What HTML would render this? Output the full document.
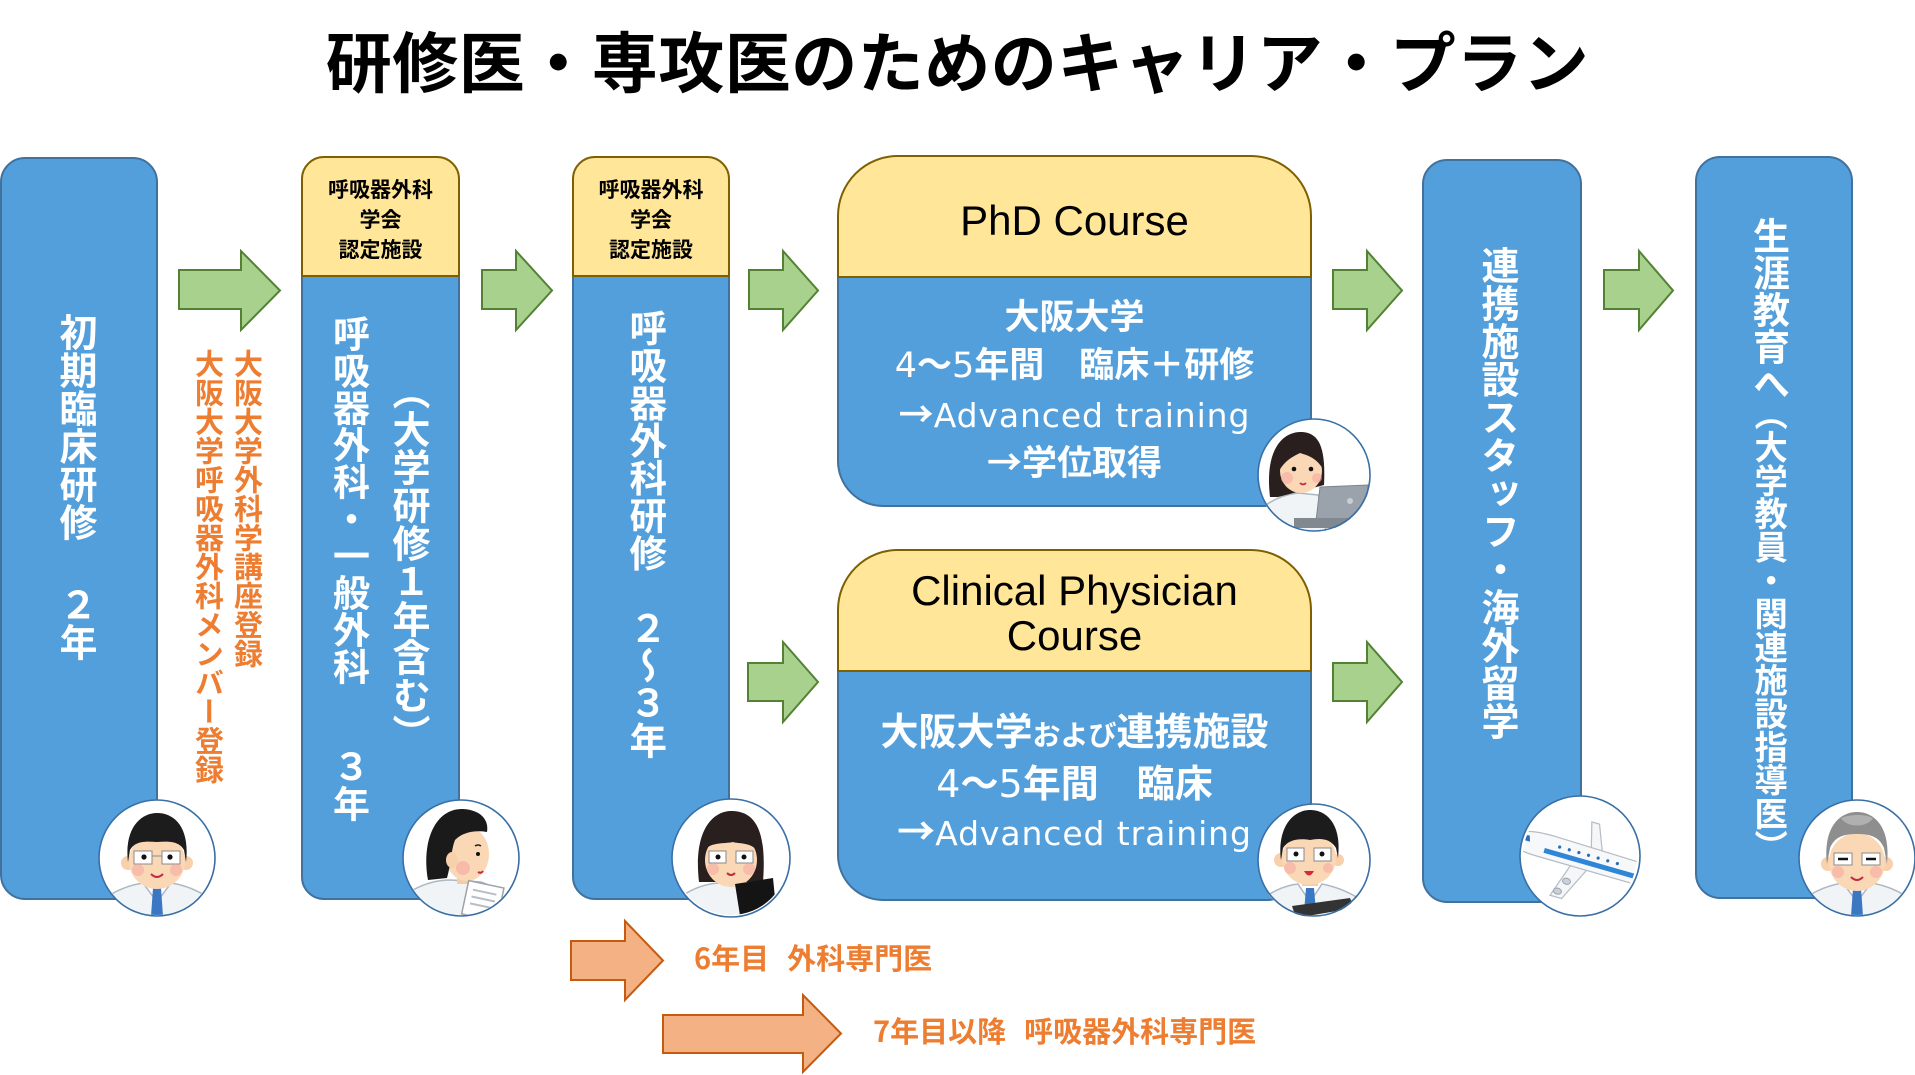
<!DOCTYPE html>
<html><head><meta charset="utf-8">
<style>
html,body{margin:0;padding:0;background:#fff;width:1915px;height:1075px;overflow:hidden;}
body{position:relative;font-family:"Liberation Sans","Noto Sans CJK JP",sans-serif;}
svg{position:absolute;left:0;top:0;}
.t{position:absolute;white-space:nowrap;}
.jp{font-family:"Noto Sans CJK JP","Liberation Sans",sans-serif;}
.w{position:absolute;white-space:nowrap;font-family:"Noto Sans CJK JP",sans-serif;font-weight:bold;color:#fff;text-align:center;left:838px;width:473px;}
.v{position:absolute;writing-mode:vertical-rl;white-space:nowrap;font-family:"Noto Sans CJK JP",sans-serif;font-weight:bold;color:#fff;height:520px;overflow:visible;}
.lat{font-family:"DejaVu Sans",sans-serif;font-weight:normal;line-height:0;}
.adv{font-family:"DejaVu Sans",sans-serif;font-weight:normal;line-height:0;font-size:33px;letter-spacing:0.9px;}
.ja{font-family:"Noto Sans CJK JP",sans-serif;line-height:0;}
</style></head><body>
<svg width="1915" height="1075" viewBox="0 0 1915 1075">
<defs>
<clipPath id="cc"><circle cx="0" cy="0" r="57"/></clipPath>
</defs>
<!-- Box1 -->
<rect x="1" y="158" width="156" height="741" rx="24" fill="#529FDC" stroke="#41719C" stroke-width="2"/>
<!-- Box2 -->
<path d="M302,276 V877 A22,22 0 0 0 324,899 H437 A22,22 0 0 0 459,877 V276 Z" fill="#529FDC" stroke="#41719C" stroke-width="2"/>
<path d="M302,276 V179 A22,22 0 0 1 324,157 H437 A22,22 0 0 1 459,179 V276 Z" fill="#FFE699" stroke="#7F6000" stroke-width="2"/>
<!-- Box3 -->
<path d="M573,276 V877 A22,22 0 0 0 595,899 H707 A22,22 0 0 0 729,877 V276 Z" fill="#529FDC" stroke="#41719C" stroke-width="2"/>
<path d="M573,276 V179 A22,22 0 0 1 595,157 H707 A22,22 0 0 1 729,179 V276 Z" fill="#FFE699" stroke="#7F6000" stroke-width="2"/>
<!-- PhD -->
<path d="M838,277 V461 A45,45 0 0 0 883,506 H1266 A45,45 0 0 0 1311,461 V277 Z" fill="#529FDC" stroke="#41719C" stroke-width="2"/>
<path d="M838,277 V216 A60,60 0 0 1 898,156 H1251 A60,60 0 0 1 1311,216 V277 Z" fill="#FFE699" stroke="#7F6000" stroke-width="2"/>
<!-- Clinical -->
<path d="M838,671 V855 A45,45 0 0 0 883,900 H1266 A45,45 0 0 0 1311,855 V671 Z" fill="#529FDC" stroke="#41719C" stroke-width="2"/>
<path d="M838,671 V610 A60,60 0 0 1 898,550 H1251 A60,60 0 0 1 1311,610 V671 Z" fill="#FFE699" stroke="#7F6000" stroke-width="2"/>
<!-- Box5, Box6 -->
<rect x="1423" y="160" width="158" height="742" rx="24" fill="#529FDC" stroke="#41719C" stroke-width="2"/>
<rect x="1696" y="157" width="156" height="741" rx="24" fill="#529FDC" stroke="#41719C" stroke-width="2"/>

<!-- Green arrows -->
<g fill="#A9D18E" stroke="#548235" stroke-width="2" stroke-linejoin="miter">
<polygon points="179,270 241,270 241,251 280,290.5 241,330 241,309 179,309"/>
<polygon points="482,270 516,270 516,251 552,290.5 516,330 516,309 482,309"/>
<polygon points="749,270 783,270 783,251 818,290.5 783,330 783,309 749,309"/>
<polygon points="1333,270 1367,270 1367,251 1402,290.5 1367,330 1367,309 1333,309"/>
<polygon points="1604,270 1639,270 1639,251 1673,290.5 1639,330 1639,309 1604,309"/>
<polygon points="748,663 783,663 783,642 818,682 783,722 783,701 748,701"/>
<polygon points="1333,663 1367,663 1367,642 1402,682 1367,722 1367,701 1333,701"/>
</g>
<!-- Orange arrows -->
<g fill="#F4B183" stroke="#C55A11" stroke-width="2">
<polygon points="571,941 625,941 625,921 663,960.5 625,1000 625,980 571,980"/>
<polygon points="663,1015 803,1015 803,995 841,1033.5 803,1072 803,1053 663,1053"/>
</g>

<!-- C1 man front -->
<g transform="translate(157,858)">
<circle r="58" fill="#fff"/>
<g clip-path="url(#cc)">
<path d="M-60,60 L-52,40 Q-34,28 -14,25 L0,44 L14,25 Q34,28 52,40 L60,60 Z" fill="#F1F4F7" stroke="#AEB8C2" stroke-width="1.5"/>
<path d="M-4,30 L4,30 L6,58 L0,62 L-6,58 Z" fill="#3B78C3"/>
<rect x="-8" y="16" width="16" height="12" fill="#F5CBA5"/>
<circle cx="-29" cy="5" r="7" fill="#F8D0AB"/><circle cx="29" cy="5" r="7" fill="#F8D0AB"/>
<ellipse cx="0" cy="3" rx="28" ry="28" fill="#FAD8B6"/>
<path d="M-29,4 C-33,-30 -16,-45 0,-45 C18,-45 33,-30 29,4 L27,-8 C22,-17 12,-17 0,-16 C-12,-17 -22,-17 -27,-8 Z" fill="#1C1C1C"/>
<rect x="-23" y="-7" width="18" height="13" fill="#fff" stroke="#8A8A8A"/>
<rect x="5" y="-7" width="18" height="13" fill="#fff" stroke="#8A8A8A"/>
<line x1="-5" y1="-2" x2="5" y2="-2" stroke="#8A8A8A"/>
<circle cx="-13" cy="-1" r="2.6" fill="#111"/><circle cx="13" cy="-1" r="2.6" fill="#111"/>
<circle cx="-19" cy="12" r="6" fill="#F6A6A0" opacity=".55"/><circle cx="19" cy="12" r="6" fill="#F6A6A0" opacity=".55"/>
<path d="M-6,16 Q0,22 6,16" stroke="#C42A44" stroke-width="2" fill="none"/>
</g>
<circle r="58" fill="none" stroke="#3A6FA6" stroke-width="1.6"/>
</g>

<!-- C2 side man with clipboard -->
<g transform="translate(461,858)">
<circle r="58" fill="#fff"/>
<g clip-path="url(#cc)">
<path d="M-60,62 L-48,32 Q-30,22 -10,22 L20,24 Q38,30 44,44 L50,62 Z" fill="#F1F4F7" stroke="#AEB8C2" stroke-width="1.5"/>
<rect x="-4" y="12" width="16" height="14" fill="#F5CBA5"/>
<ellipse cx="6" cy="-4" rx="22" ry="27" fill="#FAD8B6"/>
<path d="M-33,22 C-40,-20 -24,-50 2,-49 C20,-48 28,-38 26,-26 C14,-28 2,-26 -6,-18 C-10,-8 -10,6 -14,20 Z" fill="#1A1A1A"/>
<ellipse cx="-9" cy="2" rx="6" ry="8" fill="#F8D0AB"/>
<circle cx="2" cy="10" r="7" fill="#F6A6A0" opacity=".6"/>
<path d="M14,-12 q3,-2 6,0" stroke="#222" stroke-width="1.5" fill="none"/>
<circle cx="17" cy="-4" r="2" fill="#111"/>
<path d="M17,14 q3,2 5,-1" stroke="#C42A44" stroke-width="2" fill="none"/>
<g transform="rotate(12 22 42)">
<rect x="4" y="26" width="36" height="34" fill="#fff" stroke="#9AA3AC" stroke-width="1.5"/>
<g stroke="#B7BEC6" stroke-width="2"><line x1="10" y1="34" x2="34" y2="34"/><line x1="10" y1="41" x2="34" y2="41"/><line x1="10" y1="48" x2="34" y2="48"/></g>
</g>
</g>
<circle r="58" fill="none" stroke="#3A6FA6" stroke-width="1.6"/>
</g>

<!-- C3 woman glasses tablet -->
<g transform="translate(731,858)">
<circle r="59" fill="#fff"/>
<g clip-path="url(#cc)">
<path d="M-60,62 L-46,36 Q-30,26 -12,25 L12,25 Q30,28 40,40 L50,62 Z" fill="#F1F4F7" stroke="#AEB8C2" stroke-width="1.5"/>
<rect x="-8" y="14" width="16" height="14" fill="#F5CBA5"/>
<path d="M-32,24 C-38,-28 -18,-48 2,-47 C24,-46 36,-28 32,24 Z" fill="#2A1F1F"/>
<ellipse cx="0" cy="2" rx="26" ry="27" fill="#FAD8B6"/>
<path d="M-28,6 C-30,-22 -16,-38 2,-38 C20,-38 30,-22 28,6 L26,-8 C18,-16 8,-14 2,-16 C-8,-14 -20,-16 -26,-8 Z" fill="#2A1F1F"/>
<rect x="-22" y="-7" width="17" height="12" fill="#fff" stroke="#8A8A8A"/>
<rect x="5" y="-7" width="17" height="12" fill="#fff" stroke="#8A8A8A"/>
<circle cx="-13" cy="-1" r="2.5" fill="#111"/><circle cx="13" cy="-1" r="2.5" fill="#111"/>
<circle cx="-18" cy="11" r="6" fill="#F6A6A0" opacity=".55"/><circle cx="18" cy="11" r="6" fill="#F6A6A0" opacity=".55"/>
<path d="M-4,15 Q0,19 4,15" stroke="#C42A44" stroke-width="2" fill="none"/>
<polygon points="4,26 42,20 46,60 10,64" fill="#141414"/>
</g>
<circle r="59" fill="none" stroke="#3A6FA6" stroke-width="1.6"/>
</g>

<!-- C4 woman laptop -->
<g transform="translate(1314,475)">
<circle r="56" fill="#fff"/>
<g clip-path="url(#cc)">
<path d="M-56,60 L-48,30 Q-34,20 -16,18 L4,20 Q10,32 12,60 Z" fill="#F1F4F7" stroke="#AEB8C2" stroke-width="1.5"/>
<path d="M-44,22 C-50,-30 -28,-44 -12,-43 C4,-42 12,-30 10,10 L-36,22 Z" fill="#2A1F1F"/>
<ellipse cx="-13" cy="-4" rx="21" ry="22" fill="#FAD8B6"/>
<path d="M-36,-2 C-38,-26 -26,-38 -12,-38 C2,-38 10,-26 9,-6 C2,-18 -8,-20 -14,-22 C-22,-18 -30,-14 -36,-2 Z" fill="#2A1F1F"/>
<circle cx="-20" cy="-6" r="2.3" fill="#111"/><circle cx="-3" cy="-6" r="2.3" fill="#111"/>
<circle cx="-27" cy="3" r="6" fill="#F6A6A0" opacity=".55"/><circle cx="3" cy="3" r="5" fill="#F6A6A0" opacity=".55"/>
<path d="M-14,8 Q-11,11 -8,8" stroke="#C42A44" stroke-width="1.8" fill="none"/>
<polygon points="6,12 54,10 52,44 2,46" fill="#9AA3AC" stroke="#7D868F" stroke-width="1"/>
<circle cx="36" cy="26" r="3" fill="#C8CED4"/>
<rect x="-20" y="43" width="78" height="10" fill="#808990"/>
</g>
<circle r="56" fill="none" stroke="#3A6FA6" stroke-width="1.6"/>
</g>

<!-- C5 man writing -->
<g transform="translate(1314,860)">
<circle r="56" fill="#fff"/>
<g clip-path="url(#cc)">
<path d="M-58,60 L-50,38 Q-34,26 -16,24 L-4,42 L8,24 Q28,28 44,38 L52,60 Z" fill="#F1F4F7" stroke="#AEB8C2" stroke-width="1.5"/>
<path d="M-8,28 L0,28 L2,52 L-4,56 L-10,52 Z" fill="#3B78C3"/>
<rect x="-12" y="14" width="16" height="12" fill="#F5CBA5"/>
<circle cx="-33" cy="0" r="7" fill="#F8D0AB"/><circle cx="24" cy="0" r="6" fill="#F8D0AB"/>
<ellipse cx="-5" cy="-2" rx="27" ry="27" fill="#FAD8B6"/>
<path d="M-33,0 C-37,-34 -20,-50 -4,-50 C14,-50 28,-34 24,-2 L22,-12 C16,-22 6,-22 -4,-20 C-16,-22 -26,-20 -31,-12 Z" fill="#1C1C1C"/>
<rect x="-27" y="-12" width="17" height="13" fill="#fff" stroke="#8A8A8A"/>
<rect x="0" y="-12" width="17" height="13" fill="#fff" stroke="#8A8A8A"/>
<circle cx="-18" cy="-6" r="2.5" fill="#111"/><circle cx="8" cy="-6" r="2.5" fill="#111"/>
<circle cx="-24" cy="8" r="6" fill="#F6A6A0" opacity=".55"/><circle cx="14" cy="8" r="5" fill="#F6A6A0" opacity=".55"/>
<path d="M-10,11 Q-5,20 0,11 Z" fill="#D8283E"/>
<polygon points="-22,46 36,38 40,48 -18,58" fill="#333"/>
</g>
<circle r="56" fill="none" stroke="#3A6FA6" stroke-width="1.6"/>
</g>

<!-- C6 plane -->
<g transform="translate(1580,856)">
<circle r="60" fill="#fff"/>
<g clip-path="url(#cc)">
<g transform="rotate(16)">
<polygon points="-4,4 14,4 -6,46 -18,46" fill="#F4F6F8" stroke="#B5BCC3" stroke-width="1.2"/>
<polygon points="10,-6 22,-6 10,-36 2,-36" fill="#F4F6F8" stroke="#B5BCC3" stroke-width="1.2"/>
<path d="M-72,2 C-66,-10 -50,-12 -30,-12 L70,-10 L70,12 L-40,12 C-58,12 -70,10 -72,2 Z" fill="#F7F8FA" stroke="#B5BCC3" stroke-width="1.2"/>
<rect x="-36" y="2" width="106" height="5" fill="#2F86D6"/>
<g fill="#2A6CB8"><circle cx="-22" cy="-3" r="1.6"/><circle cx="-12" cy="-3" r="1.6"/><circle cx="-2" cy="-3" r="1.6"/><circle cx="8" cy="-3" r="1.6"/><circle cx="18" cy="-3" r="1.6"/><circle cx="28" cy="-3" r="1.6"/><circle cx="38" cy="-3" r="1.6"/></g>
<path d="M-62,-4 L-54,-6 L-52,0 L-60,0 Z" fill="#2A6CB8"/>
<ellipse cx="-6" cy="28" rx="4" ry="3" fill="#C9D2DA" stroke="#9AA3AC"/>
<ellipse cx="-12" cy="40" rx="4" ry="3" fill="#C9D2DA" stroke="#9AA3AC"/>
</g>
</g>
<circle r="60" fill="none" stroke="#3A6FA6" stroke-width="1.6"/>
</g>

<!-- C7 old man -->
<g transform="translate(1857,858)">
<circle r="58" fill="#fff"/>
<g clip-path="url(#cc)">
<path d="M-60,60 L-52,40 Q-34,28 -14,25 L0,44 L14,25 Q34,28 52,40 L60,60 Z" fill="#F1F4F7" stroke="#AEB8C2" stroke-width="1.5"/>
<path d="M-4,30 L4,30 L6,58 L0,62 L-6,58 Z" fill="#3B78C3"/>
<rect x="-8" y="16" width="16" height="12" fill="#F5CBA5"/>
<circle cx="-29" cy="6" r="7" fill="#F8D0AB"/><circle cx="29" cy="6" r="7" fill="#F8D0AB"/>
<ellipse cx="0" cy="4" rx="28" ry="29" fill="#FAD8B6"/>
<path d="M-30,6 C-34,-30 -18,-46 0,-46 C18,-46 34,-30 30,6 L27,-10 C22,-22 12,-24 0,-24 C-12,-24 -22,-22 -27,-10 Z" fill="#8E8E8E"/>
<path d="M-16,-40 C-6,-44 8,-44 16,-40 C10,-30 -10,-30 -16,-40 Z" fill="#B0B0B0"/>
<rect x="-23" y="-5" width="18" height="12" fill="#fff" stroke="#8A8A8A"/>
<rect x="5" y="-5" width="18" height="12" fill="#fff" stroke="#8A8A8A"/>
<line x1="-19" y1="1" x2="-9" y2="1" stroke="#111" stroke-width="2.4"/><line x1="9" y1="1" x2="19" y2="1" stroke="#111" stroke-width="2.4"/>
<circle cx="-19" cy="14" r="6" fill="#F6A6A0" opacity=".55"/><circle cx="19" cy="14" r="6" fill="#F6A6A0" opacity=".55"/>
<path d="M-6,19 Q0,25 6,19" stroke="#C42A44" stroke-width="2" fill="none"/>
</g>
<circle r="58" fill="none" stroke="#3A6FA6" stroke-width="1.6"/>
</g>
</svg>

<!-- Title -->
<div class="t jp" style="left:0;width:1915px;text-align:center;top:26px;font-size:66px;line-height:66px;font-weight:bold;color:#000;letter-spacing:0.5px;">研修医・専攻医のためのキャリア・プラン</div>

<!-- Yellow headers -->
<div class="t jp" style="left:302px;width:157px;text-align:center;top:174px;font-size:21px;line-height:30px;font-weight:bold;color:#000;">呼吸器外科<br>学会<br>認定施設</div>
<div class="t jp" style="left:573px;width:156px;text-align:center;top:174px;font-size:21px;line-height:30px;font-weight:bold;color:#000;">呼吸器外科<br>学会<br>認定施設</div>

<!-- Course titles -->
<div class="t" style="left:838px;width:473px;text-align:center;top:196px;font-size:42px;line-height:50px;font-family:'Liberation Sans',sans-serif;color:#000;">PhD Course</div>
<div class="t" style="left:838px;width:473px;text-align:center;top:568px;font-size:42px;line-height:45px;font-family:'Liberation Sans',sans-serif;color:#000;">Clinical Physician<br>Course</div>

<!-- PhD white text -->
<div class="w" style="top:291px;font-size:35px;line-height:48px;">大阪大学</div>
<div class="w" style="top:339px;font-size:35px;line-height:48px;"><span class="lat" style="font-size:35px;">4</span>～<span class="lat" style="font-size:35px;">5</span>年間　臨床＋研修</div>
<div class="w" style="top:389px;font-size:35px;line-height:48px;">→<span class="adv">Advanced training</span></div>
<div class="w" style="top:437px;font-size:35px;line-height:48px;">→学位取得</div>

<!-- Clinical white text -->
<div class="w" style="top:703px;font-size:38px;line-height:52px;">大阪大学<span class="ja" style="font-size:28px;">および</span>連携施設</div>
<div class="w" style="top:755px;font-size:38px;line-height:52px;"><span class="lat" style="font-size:38px;">4</span>～<span class="lat" style="font-size:38px;">5</span>年間　臨床</div>
<div class="w" style="top:803px;font-size:38px;line-height:52px;">→<span class="adv">Advanced training</span></div>

<!-- Vertical texts -->
<div class="v" style="left:59px;top:313px;width:38px;font-size:38px;line-height:38px;">初期臨床研修</div>
<div class="v" style="left:59px;top:585px;width:38px;font-size:38px;line-height:38px;height:120px;">２年</div>

<div class="v" style="left:233.5px;top:349px;width:29px;font-size:29px;line-height:29px;color:#ED7D31;">大阪大学外科学講座登録</div>
<div class="v" style="left:194.5px;top:349px;width:29px;font-size:29px;line-height:29px;color:#ED7D31;">大阪大学呼吸器外科メンバー登録</div>

<div class="v" style="left:332.5px;top:315px;width:37px;font-size:37px;line-height:37px;">呼吸器外科・一般外科</div>
<div class="v" style="left:332.5px;top:748px;width:37px;font-size:37px;line-height:37px;height:120px;">３年</div>
<div class="v" style="left:392px;top:372px;width:38px;font-size:38px;line-height:38px;">（大学研修１年含む）</div>

<div class="v" style="left:629.25px;top:309px;width:37.5px;font-size:37.5px;line-height:37.5px;">呼吸器外科研修　２～３年</div>

<div class="v" style="left:1481px;top:246px;width:38px;font-size:38px;line-height:38px;">連携施設スタッフ・海外留学</div>

<div class="v" style="left:1752.5px;top:217px;width:37px;font-size:37px;line-height:37px;height:220px;">生涯教育へ</div>
<div class="v" style="left:1754.35px;top:396.5px;width:33.3px;font-size:33.3px;line-height:33.3px;">（大学教員・関連施設指導医）</div>

<!-- Orange horizontal labels -->
<div class="t jp" style="left:694px;top:943px;font-size:29px;line-height:29px;font-weight:bold;color:#ED7D31;">6年目<span style="display:inline-block;width:18px;"></span>外科専門医</div>
<div class="t jp" style="left:873px;top:1016px;font-size:29px;line-height:29px;font-weight:bold;color:#ED7D31;">7年目以降<span style="display:inline-block;width:18px;"></span>呼吸器外科専門医</div>
</body></html>
